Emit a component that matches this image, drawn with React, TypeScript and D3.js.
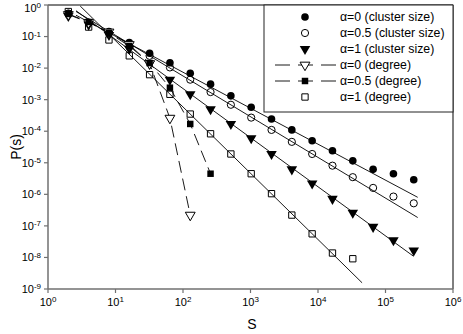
import React from 'react'
import { scaleLog, line, symbol, symbolSquare, symbolTriangle } from 'd3'

// s values are powers of two
const sizes = [2, 4, 8, 16, 32, 64, 128, 256, 512, 1024, 2048, 4096, 8192, 16384, 32768, 65536, 131072, 262144]

const clusterA0 = [0.525, 0.275, 0.145, 0.0646, 0.0295, 0.0148, 0.0069, 0.0031, 0.00132, 5.75e-4, 2.45e-4, 1.1e-4, 5.0e-5, 2.4e-5, 1.15e-5, 6.2e-6, 4.5e-6, 2.9e-6]
const clusterA05 = [0.54, 0.28, 0.135, 0.06, 0.0245, 0.0105, 0.0043, 0.00174, 6.9e-4, 2.7e-4, 1.1e-4, 4.6e-5, 1.9e-5, 8.1e-6, 3.5e-6, 1.6e-6, 8.5e-7, 5.2e-7]
const clusterA1 = [0.447, 0.24, 0.112, 0.041, 0.0135, 0.0043, 0.00148, 5.0e-4, 1.7e-4, 6.0e-5, 1.9e-5, 6.2e-6, 2.2e-6, 7.2e-7, 2.6e-7, 9.3e-8, 3.5e-8, 1.66e-8]
const degreeA0 = [0.5, 0.28, 0.14, 0.056, 0.014, 2.6e-4, 2.2e-7]
const degreeA05 = [0.52, 0.29, 0.13, 0.05, 0.0145, 0.0024, 1.7e-4, 4.5e-6]
const degreeA1 = [0.62, 0.2, 0.078, 0.0245, 0.0062, 0.00148, 3.5e-4, 8.3e-5, 1.9e-5, 4.5e-6, 1.05e-6, 2.2e-7, 5.6e-8, 1.38e-8, 9.1e-9]

// power-law fits: P = A * s^-gamma over [from, to]
const fitClusterA0 = { A: 1.41, gamma: 1.14, from: 2.6, to: 3.0e5 }
const fitClusterA05 = { A: 2.14, gamma: 1.29, from: 2.6, to: 3.0e5 }
const fitClusterA1 = { A: 2.91, gamma: 1.556, from: 2.6, to: 2.6e5 }
const fitDegreeA1 = { A: 9.3, gamma: 2.1, from: 3, to: 4.5e4 }

const xExponents = [0, 1, 2, 3, 4, 5, 6]
const yExponents = [0, -1, -2, -3, -4, -5, -6, -7, -8, -9]

const legendLabels = ['α=0 (cluster size)', 'α=0.5 (cluster size)', 'α=1 (cluster size)', 'α=0 (degree)', 'α=0.5 (degree)', 'α=1 (degree)']

const W = 463, H = 334
const m = { l: 48, r: 10, t: 5, b: 45 }
const font = '"Liberation Sans", Arial, sans-serif'

const Marker = ({ kind, x, y }) => {
    if (kind === 'dot') return <circle cx={x} cy={y} r={3.8} fill='black' />
    if (kind === 'ring') return <circle cx={x} cy={y} r={3.6} fill='none' stroke='black' strokeWidth={1} />
    if (kind === 'tri') return <path d={symbol(symbolTriangle, 48)()} transform={`translate(${x},${y}) rotate(180)`} fill='black' />
    if (kind === 'otri') return <path d={symbol(symbolTriangle, 42)()} transform={`translate(${x},${y}) rotate(180)`} fill='white' stroke='black' />
    if (kind === 'sq') return <path d={symbol(symbolSquare, 42)()} transform={`translate(${x},${y})`} fill='black' />
    return <path d={symbol(symbolSquare, 40)()} transform={`translate(${x},${y})`} fill='none' stroke='black' />
}

const App = () => {
    const x = scaleLog().domain([1, 1e6]).range([m.l, W - m.r])
    const y = scaleLog().domain([1e-9, 1]).range([H - m.b, m.t])
    const path = line().x(d => x(d[0])).y(d => y(d[1]))

    const fitPath = f => path([[f.from, f.A * Math.pow(f.from, -f.gamma)], [f.to, f.A * Math.pow(f.to, -f.gamma)]])
    const pts = vals => vals.map((v, i) => [sizes[i], v])

    const series = [
        { vals: clusterA0, kind: 'dot' },
        { vals: clusterA05, kind: 'ring' },
        { vals: clusterA1, kind: 'tri' },
        { vals: degreeA0, kind: 'otri' },
        { vals: degreeA05, kind: 'sq' },
        { vals: degreeA1, kind: 'osq' },
    ]

    const lx = 305, ly0 = 17, lstep = 16

    return (
        <svg width={W} height={H} style={{ position: 'absolute', left: 0, top: 0, fontFamily: font }}>
            <rect width={W} height={H} fill='white' />
            {/* frame top/right */}
            <line x1={m.l} x2={W - m.r} y1={m.t} y2={m.t} stroke='black' />
            <line x1={W - m.r} x2={W - m.r} y1={m.t} y2={H - m.b} stroke='black' />

            {/* fit lines */}
            {[fitClusterA0, fitClusterA05, fitClusterA1, fitDegreeA1].map((f, i) =>
                <path key={i} d={fitPath(f)} stroke='black' strokeWidth={0.9} fill='none' />)}
            {/* dashed degree lines */}
            {[degreeA0, degreeA05].map((v, i) =>
                <path key={i} d={path(pts(v))} stroke='black' strokeWidth={0.9} strokeDasharray='12 6' fill='none' />)}

            {series.map((s, si) => s.vals.map((v, i) =>
                <Marker key={si + '-' + i} kind={s.kind} x={x(sizes[i])} y={y(v)} />))}

            {/* axes */}
            <line x1={m.l} x2={m.l} y1={m.t} y2={H - m.b} stroke='#707070' strokeWidth={1.5} />
            <line x1={m.l} x2={W - m.r} y1={H - m.b} y2={H - m.b} stroke='#707070' strokeWidth={1.5} />
            {yExponents.map(e => (
                <g key={e} transform={`translate(0,${y(Math.pow(10, e))})`}>
                    <line x1={m.l - 4} x2={m.l} stroke='#707070' strokeWidth={1.2} />
                    <text x={m.l - 7} dy={e === 0 ? '0.6em' : '0.35em'} textAnchor='end' fontSize={11}>
                        10<tspan dy='-0.45em' fontSize={8}>{e}</tspan>
                    </text>
                </g>
            ))}
            {xExponents.map(e => (
                <g key={e} transform={`translate(${x(Math.pow(10, e))},${H - m.b})`}>
                    <line y1={0} y2={4} stroke='#707070' strokeWidth={1.2} />
                    <text y={17} textAnchor='middle' fontSize={11}>
                        10<tspan dy='-0.45em' fontSize={8}>{e}</tspan>
                    </text>
                </g>
            ))}
            <text x={252} y={329} textAnchor='middle' fontSize={14}>S</text>
            <text transform={`translate(21,${(m.t + H - m.b) / 2}) rotate(-90)`} textAnchor='middle' fontSize={14}>P(s)</text>

            {/* legend */}
            <rect x={264} y={m.t} width={W - m.r - 264} height={107} fill='white' stroke='#222' />
            {series.map((s, i) => {
                const yy = ly0 + i * lstep
                return (
                    <g key={i}>
                        {i === 3 || i === 4 ? <line x1={275} x2={336} y1={yy} y2={yy} stroke='black' strokeWidth={0.9} strokeDasharray='15 8' /> : null}
                        <Marker kind={s.kind} x={lx} y={yy} />
                        <text x={340} y={yy} dy='0.35em' fontSize={12.3}>{legendLabels[i]}</text>
                    </g>
                )
            })}
        </svg>
    )
}

export default App
